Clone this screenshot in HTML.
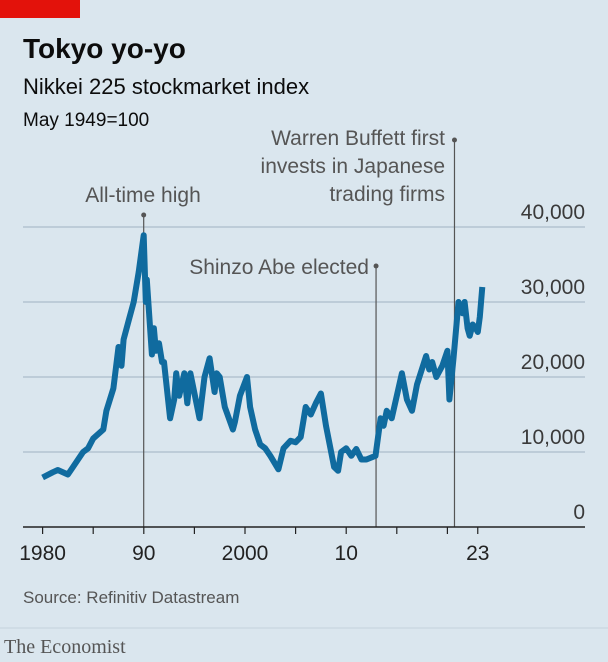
<!DOCTYPE html>
<html><head><meta charset="utf-8"><style>
body{margin:0;background:#dae6ee;}
svg{display:block;font-family:"Liberation Sans",sans-serif;}
</style></head><body>
<svg width="608" height="662">
<rect width="608" height="662" fill="#dae6ee"/>
<rect x="0" y="0" width="80" height="18" fill="#e3120b"/>
<text x="23" y="58" font-size="28" font-weight="bold" fill="#0c0c0c">Tokyo yo-yo</text>
<text x="23" y="94" font-size="22" fill="#0c0c0c">Nikkei 225 stockmarket index</text>
<text x="23" y="126" font-size="19" fill="#0c0c0c">May 1949=100</text>
<g id="grid"></g>
<g id="ann"></g>
<path id="line" fill="none" stroke="#106b9f" stroke-width="6" stroke-linejoin="round"/>
<g id="xax"></g>
<text x="23" y="603" font-size="17" fill="#555">Source: Refinitiv Datastream</text>
<line x1="0" y1="628" x2="608" y2="628" stroke="#c4d2dc" stroke-width="1"/>
<text x="4" y="653" font-size="20" fill="#555" font-family="Liberation Serif,serif">The Economist</text>
</svg>
<script>
const years=[1980,1981,1981.5,1982.5,1983,1984,1984.5,1985,1986,1986.3,1987,1987.5,1987.6,1987.8,1988,1988.5,1989,1989.5,1989.99,1990.2,1990.3,1990.8,1991,1991.2,1991.5,1991.8,1992,1992.6,1993,1993.2,1993.5,1994,1994.3,1994.6,1995.5,1996,1996.5,1997,1997.2,1997.5,1998,1998.8,1999,1999.5,2000.2,2000.5,2001,2001.5,2002,2002.5,2003.3,2003.8,2004.5,2005,2005.5,2006,2006.5,2007,2007.5,2008,2008.8,2009.2,2009.5,2010,2010.5,2011,2011.5,2012,2012.9,2013.4,2013.7,2014,2014.5,2015.5,2016,2016.5,2017,2017.9,2018.2,2018.5,2018.9,2019.5,2020,2020.2,2020.6,2021,2021.1,2021.5,2021.7,2022,2022.2,2022.5,2022.8,2023,2023.2,2023.45];
const values=[6600,7300,7600,7000,8000,10000,10500,11800,13000,15500,18500,24000,22000,21500,25000,27500,30000,34000,38900,30000,33000,23000,26500,23500,24500,22000,22000,14500,17000,20500,17500,20500,16500,20500,14500,20000,22500,18000,20500,20000,16000,13000,14000,17500,20000,16000,13000,11000,10500,9500,7700,10500,11500,11300,12000,16000,15000,16500,17800,13500,8000,7500,10000,10500,9500,10400,9000,9000,9500,14500,13500,15500,14500,20500,17000,15500,19000,22800,21000,22000,20000,21500,23500,17000,22500,28500,30000,28500,30000,26500,25500,27000,26500,26000,28000,32000];
const yTicks=[0,10000,20000,30000,40000];
const yTickLabels=["0","10,000","20,000","30,000","40,000"];
const xTicks=[1980,1985,1990,1995,2000,2005,2010,2015,2020,2023];
const xTickLabels=["1980","","90","","2000","","10","","","23"];
const annYears=[1989.99,2012.95,2020.7];
const annTop=[215,266,140];
const X=y=>42.6+(y-1980)*10.12;
const Y=v=>527-v*0.0075;
const ns="http://www.w3.org/2000/svg";
function mk(tag,at,parent,txt){const e=document.createElementNS(ns,tag);for(const k in at)e.setAttribute(k,at[k]);if(txt)e.textContent=txt;parent.appendChild(e);return e;}
const grid=document.getElementById('grid');
yTicks.forEach((t,i)=>{
 if(t>0){const l=mk('line',{x1:23,x2:585,y1:Y(t),y2:Y(t),stroke:'#b3c4d0','stroke-width':1.5},grid);
 
 }
 const tx=mk('text',{x:585,y:Y(t)-8,'text-anchor':'end','font-size':21,fill:'#3a3a3a'},grid,yTickLabels[i]);
 
 
});
const ann=document.getElementById('ann');
annYears.forEach((a,i)=>{
 const l=mk('line',{x1:X(a),x2:X(a),y1:annTop[i],y2:527,stroke:'#555','stroke-width':1.2},ann);
 
 
 const c=mk('circle',{cx:X(a),cy:annTop[i],r:2.5,fill:'#555'},ann);
 
 
});
const t1=mk('text',{x:143,y:202,'text-anchor':'middle','font-size':21,fill:'#555'},ann,'All-time high');


const t2=mk('text',{x:369,y:274,'text-anchor':'end','font-size':21,fill:'#555'},ann,'Shinzo Abe elected');


['Warren Buffett first','invests in Japanese','trading firms'].forEach((s,i)=>{
 const t=mk('text',{x:445,y:145+i*28,'text-anchor':'end','font-size':21,fill:'#555'},ann,s);
 
 
});
document.getElementById('line').setAttribute('d',years.map((y,i)=>(i?'L':'M')+X(y).toFixed(1)+' '+Y(values[i]).toFixed(1)).join(''));
const xax=document.getElementById('xax');
const base=mk('line',{x1:23,x2:585,y1:527,y2:527,stroke:'#222','stroke-width':1.5},xax);


xTicks.forEach((t,i)=>{
 const l=mk('line',{x1:X(t),x2:X(t),y1:527,y2:534,stroke:'#222','stroke-width':1.2},xax);
 
 
 if(xTickLabels[i]){const tx=mk('text',{x:X(t),y:560,'text-anchor':'middle','font-size':21,fill:'#222'},xax,xTickLabels[i]);
 
 }
});
</script>
</body></html>
